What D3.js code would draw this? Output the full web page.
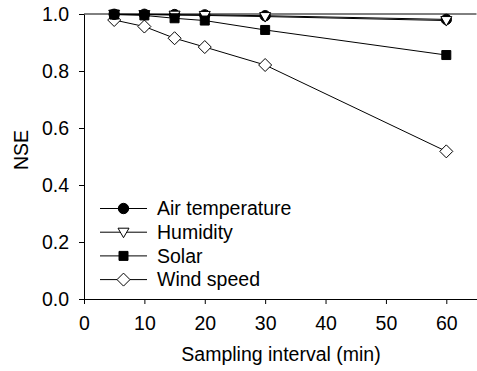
<!DOCTYPE html>
<html lang="en">
  <head>
    <meta charset="UTF-8" />
    <script src="https://d3js.org/d3.v7.min.js"></script>
    <style>
      body { margin: 0; background: #fff; }
      svg text { font-family: "Liberation Sans", Arial, sans-serif; fill: #000; }
    </style>
  </head>
  <body>
    <div id="chart"></div>
    <script>
      // sampling intervals (min)
      var intervals = [5, 10, 15, 20, 30, 60];
      var airTemp = [0.999, 0.999, 0.998, 0.997, 0.994, 0.981];
      var humidity = [0.999, 0.998, 0.996, 0.995, 0.991, 0.977];
      var solar = [0.998, 0.995, 0.985, 0.977, 0.944, 0.856];
      var windSpeed = [0.979, 0.956, 0.915, 0.884, 0.821, 0.518];
      var seriesNames = ["Air temperature", "Humidity", "Solar", "Wind speed"];
      var xTicks = [0, 10, 20, 30, 40, 50, 60];
      var yTicks = [0, 0.2, 0.4, 0.6, 0.8, 1.0];

      var width = 477, height = 371;
      var fontSize = "19.5px";
      var svg = d3.select("#chart").append("svg")
        .attr("width", width).attr("height", height);

      var x = d3.scaleLinear().domain([0, 65]).range([84, 476.5]);
      var y = d3.scaleLinear().domain([0, 1]).range([299, 14]);

      // axes
      svg.append("g")
        .attr("transform", "translate(0," + y(0) + ")")
        .call(d3.axisBottom(x).tickValues(xTicks).tickSize(5).tickPadding(12).tickSizeOuter(0))
        .call(function (g) {
          g.selectAll("text").style("font-size", fontSize);
          g.selectAll("line,path").attr("stroke", "#000");
        });
      svg.append("g")
        .attr("transform", "translate(" + x(0) + ",0)")
        .call(d3.axisLeft(y).tickValues(yTicks).tickFormat(d3.format(".1f")).tickSize(5).tickPadding(10).tickSizeOuter(0))
        .call(function (g) {
          g.selectAll("text").style("font-size", fontSize);
          g.selectAll("line,path").attr("stroke", "#000");
        });

      // line at NSE = 1
      svg.append("line")
        .attr("x1", x(0)).attr("x2", x(65))
        .attr("y1", y(1)).attr("y2", y(1))
        .attr("stroke", "#000").attr("stroke-width", 1);

      // axis titles
      svg.append("text")
        .attr("x", 281).attr("y", 361)
        .attr("text-anchor", "middle")
        .style("font-size", fontSize)
        .text("Sampling interval (min)");
      svg.append("text")
        .attr("transform", "translate(28,150) rotate(-90)")
        .attr("text-anchor", "middle")
        .style("font-size", fontSize)
        .text("NSE");

      var series = [
        { name: seriesNames[0], values: airTemp, shape: "circle", fill: "#000" },
        { name: seriesNames[1], values: humidity, shape: "triangle", fill: "#fff" },
        { name: seriesNames[2], values: solar, shape: "square", fill: "#000" },
        { name: seriesNames[3], values: windSpeed, shape: "diamond", fill: "#fff" }
      ];

      function markerPath(shape) {
        if (shape === "circle") return d3.symbol().type(d3.symbolCircle).size(85)();
        if (shape === "square") return "M-4.5,-4.5H4.5V4.5H-4.5Z";
        if (shape === "triangle") return "M-5.5,-4L5.5,-4L0,5.5Z";
        return "M0,-6.5L6.5,0L0,6.5L-6.5,0Z";
      }

      var line = d3.line()
        .x(function (d) { return x(d[0]); })
        .y(function (d) { return y(d[1]); });

      // drawing order: wind, air temperature, humidity, solar on top
      var drawOrder = [series[3], series[0], series[1], series[2]];
      drawOrder.forEach(function (s) {
        var pts = intervals.map(function (t, i) { return [t, s.values[i]]; });
        svg.append("path")
          .attr("d", line(pts))
          .attr("fill", "none")
          .attr("stroke", "#000")
          .attr("stroke-width", 1);
      });
      drawOrder.forEach(function (s) {
        var pts = intervals.map(function (t, i) { return [t, s.values[i]]; });
        svg.selectAll(null)
          .data(pts)
          .enter()
          .append("path")
          .attr("transform", function (d) { return "translate(" + x(d[0]) + "," + y(d[1]) + ")"; })
          .attr("d", markerPath(s.shape))
          .attr("fill", s.fill)
          .attr("stroke", "#000")
          .attr("stroke-width", 1);
      });

      // legend
      var legend = svg.append("g");
      var legendItem = legend.selectAll("g")
        .data(series)
        .enter()
        .append("g")
        .attr("transform", function (d, i) { return "translate(0," + (208.5 + i * 23.7) + ")"; });
      legendItem.append("line")
        .attr("x1", 100).attr("x2", 147)
        .attr("stroke", "#000").attr("stroke-width", 1);
      legendItem.append("path")
        .attr("transform", "translate(123.5,0)")
        .attr("d", function (d) { return markerPath(d.shape); })
        .attr("fill", function (d) { return d.fill; })
        .attr("stroke", "#000");
      legendItem.append("text")
        .attr("x", 157).attr("dy", "0.35em")
        .style("font-size", fontSize)
        .text(function (d) { return d.name; });
    </script>
  </body>
</html>
